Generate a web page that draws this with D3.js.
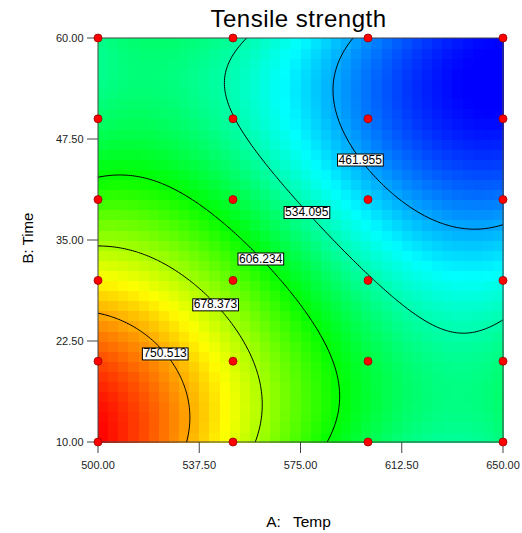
<!DOCTYPE html>
<html><head><meta charset="utf-8">
<script src="https://cdn.jsdelivr.net/npm/d3@7"></script>
<style>body{margin:0;background:#fff}svg{display:block}</style>
</head><body>
<svg id="c" width="522" height="533"></svg>
<script>
const title = "Tensile strength";
const xLabelFactor = "A:", xLabelName = "Temp";
const yLabel = "B: Time";
const xTicks = [500, 537.5, 575, 612.5, 650];
const yTicks = [10, 22.5, 35, 47.5, 60];
const designTemp = [500, 550, 600, 650];
const designTime = [10, 20, 30, 40, 50, 60];
const contourLevels = [461.955, 534.095, 606.234, 678.373, 750.513];
const colorDomain = [389.816, 822.652];
// cubic response-surface model in coded units (A: Temp, B: Time)
const modelTerms = ["1", "A", "B", "AB", "A^2", "B^2", "A^2B", "AB^2", "A^3", "B^3"];
const modelCoefs = [559.86, -163.02, -151.43, 29.17, 13.27, 5.73, -42.89, -8.07, 64.37, 85.49];

const terms = (a,b)=>[1,a,b,a*b,a*a,b*b,a*a*b,a*b*b,a*a*a,b*b*b];
const model=(a,b)=>terms(a,b).reduce((s,t,i)=>s+t*modelCoefs[i],0);

const svg=d3.select("#c");
const font="Liberation Sans, Arial, sans-serif";
const x=d3.scaleLinear().domain([500,650]).range([98,503]);
const y=d3.scaleLinear().domain([10,60]).range([442,38]);
const toA=d3.scaleLinear().domain([500,650]).range([-1,1]);
const toB=d3.scaleLinear().domain([10,60]).range([-1,1]);
const f=(T,t)=>model(toA(T),toB(t));
const color=d3.scaleLinear()
  .domain(d3.range(5).map(i=>colorDomain[0]+i*(colorDomain[1]-colorDomain[0])/4))
  .range(["#0000ff","#00ffff","#00ff00","#ffff00","#ff0000"]).clamp(true);

// blocky colour map
const NC=40;
const cells=[];
for(let i=0;i<NC;i++)for(let j=0;j<NC;j++){
  const T0=500+i*150/NC,T1=500+(i+1)*150/NC,t0=10+j*50/NC,t1=10+(j+1)*50/NC;
  cells.push({T0,T1,t0,t1,v:f((T0+T1)/2,(t0+t1)/2)});
}
svg.append("g").selectAll("rect").data(cells).join("rect")
 .attr("x",d=>x(d.T0)).attr("y",d=>y(d.t1))
 .attr("width",d=>x(d.T1)-x(d.T0)+0.6).attr("height",d=>y(d.t0)-y(d.t1)+0.6)
 .attr("fill",d=>color(d.v)).attr("shape-rendering","crispEdges");

// isolines (marching squares)
const N=200;
const gT=d3.range(N+1).map(i=>500+i*150/N), gt=d3.range(N+1).map(j=>10+j*50/N);
const G=gT.map(T=>gt.map(t=>f(T,t)));
const line=d3.line().x(d=>x(d[0])).y(d=>y(d[1]));
const labelLayer=[];
contourLevels.forEach(L=>{
  const segs=[];
  for(let i=0;i<N;i++)for(let j=0;j<N;j++){
    const c=[[gT[i],gt[j],G[i][j]],[gT[i+1],gt[j],G[i+1][j]],[gT[i+1],gt[j+1],G[i+1][j+1]],[gT[i],gt[j+1],G[i][j+1]]];
    const pts=[];
    for(let e=0;e<4;e++){const p=c[e],q=c[(e+1)%4];
      if((p[2]-L)*(q[2]-L)<0){const u=(L-p[2])/(q[2]-p[2]);pts.push([p[0]+u*(q[0]-p[0]),p[1]+u*(q[1]-p[1])]);}}
    if(pts.length>=2)segs.push([pts[0],pts[1]]);
    if(pts.length===4)segs.push([pts[2],pts[3]]);
  }
  svg.append("path").attr("d",segs.map(s=>line(s)).join("")).attr("fill","none").attr("stroke","#000").attr("stroke-width",1);
  let best=null;
  segs.forEach(s=>{const p=s[0];const px=x(p[0]),py=y(p[1]);const d=Math.abs(px+py-520);if(!best||d<best.d)best={d,px,py};});
  if(best) labelLayer.push({L,px:best.px,py:best.py});
});
labelLayer.forEach(o=>{
  const g=svg.append("g").attr("transform",`translate(${o.px},${o.py})`);
  const txt=g.append("text").text(d3.format(".3f")(o.L)).attr("font-family",font).attr("font-size",12).attr("text-anchor","middle").attr("dy","0.36em").attr("fill","#000");
  const bb=txt.node().getBBox();
  g.insert("rect","text").attr("x",bb.x-1).attr("y",bb.y+1.5).attr("width",bb.width+2).attr("height",bb.height-2).attr("fill","#fff").attr("stroke","#000").attr("stroke-width",1);
});

// frame and axes
svg.append("rect").attr("x",98).attr("y",38).attr("width",405).attr("height",404).attr("fill","none").attr("stroke","#444").attr("stroke-width",1);
const ax=svg.append("g");
yTicks.forEach(v=>{
  ax.append("line").attr("x1",87).attr("x2",98).attr("y1",y(v)).attr("y2",y(v)).attr("stroke","#444");
  ax.append("text").attr("x",83.5).attr("y",y(v)).attr("dy","0.35em").attr("text-anchor","end").attr("font-family",font).attr("font-size",11).attr("fill","#222").text(d3.format(".2f")(v));
});
xTicks.forEach(v=>{
  ax.append("line").attr("y1",442).attr("y2",453).attr("x1",x(v)).attr("x2",x(v)).attr("stroke","#444");
  ax.append("text").attr("x",x(v)).attr("y",469).attr("text-anchor","middle").attr("font-family",font).attr("font-size",11).attr("fill","#222").text(d3.format(".2f")(v));
});
svg.append("g").selectAll("circle").data(designTemp.flatMap(T=>designTime.map(t=>[T,t]))).join("circle")
 .attr("cx",d=>x(d[0])).attr("cy",d=>y(d[1])).attr("r",4).attr("fill","#ff0000").attr("stroke","#990000").attr("stroke-width",0.8);

svg.append("text").attr("x",298.5).attr("y",27).attr("text-anchor","middle").attr("font-family",font).attr("font-size",24).attr("letter-spacing",0.5).text(title);
const xt=svg.append("text").attr("x",298.5).attr("y",527).attr("text-anchor","middle").attr("font-family",font).attr("font-size",15.5);
xt.append("tspan").text(xLabelFactor+" ");
xt.append("tspan").attr("dx",8).text(xLabelName);
svg.append("text").attr("transform","translate(33,238) rotate(-90)").attr("text-anchor","middle").attr("font-family",font).attr("font-size",15).text(yLabel);
</script>
</body></html>
